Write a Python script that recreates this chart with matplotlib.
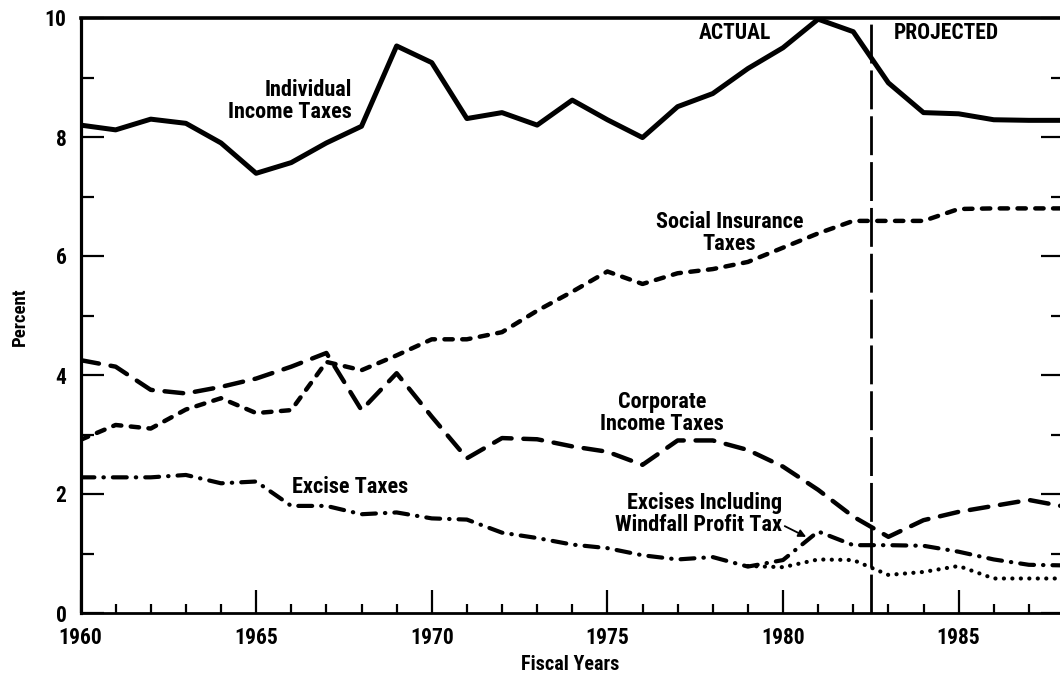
import matplotlib
matplotlib.use('Agg')
import matplotlib.pyplot as plt
from matplotlib import font_manager
from matplotlib.font_manager import FontProperties
from matplotlib.ticker import MultipleLocator

# ---------------- data ----------------
years = list(range(1960, 1989))
individual_income = [8.20, 8.12, 8.30, 8.23, 7.90, 7.39, 7.57, 7.90, 8.18, 9.53,
                     9.25, 8.31, 8.41, 8.20, 8.62, 8.29, 7.99, 8.51, 8.73, 9.15,
                     9.50, 9.98, 9.77, 8.91, 8.41, 8.39, 8.29, 8.28, 8.28]
social_insurance = [2.91, 3.16, 3.10, 3.42, 3.61, 3.36, 3.41, 4.22, 4.08, 4.33,
                    4.60, 4.60, 4.72, 5.08, 5.40, 5.74, 5.53, 5.71, 5.78, 5.90,
                    6.14, 6.38, 6.59, 6.59, 6.59, 6.79, 6.80, 6.80, 6.80]
corporate_income = [4.25, 4.14, 3.75, 3.69, 3.80, 3.94, 4.14, 4.37, 3.41, 4.03,
                    3.30, 2.60, 2.94, 2.92, 2.80, 2.71, 2.49, 2.90, 2.90, 2.74,
                    2.46, 2.07, 1.62, 1.28, 1.56, 1.70, 1.80, 1.90, 1.79]
excise_incl_windfall = [2.28, 2.28, 2.28, 2.32, 2.18, 2.21, 1.80, 1.80, 1.66, 1.69,
                        1.59, 1.57, 1.35, 1.26, 1.15, 1.09, 0.97, 0.90, 0.94, 0.78,
                        0.89, 1.37, 1.14, 1.14, 1.13, 1.03, 0.90, 0.81, 0.80]
excise_years = list(range(1979, 1989))
excise_excl_windfall = [0.79, 0.77, 0.90, 0.89, 0.64, 0.69, 0.79, 0.58, 0.58, 0.58]
projection_start = 1982.5
x_tick_labels = ['1960', '1965', '1970', '1975', '1980', '1985']
y_tick_labels = ['0', '2', '4', '6', '8', '10']

# ---------------- fonts: look for an installed bold condensed face ----------------
def find_condensed_bold():
    prefs = ['liberationsansnarrow', 'notosans', 'roboto', 'opensans', 'dejavusans']
    found = []
    for f in font_manager.fontManager.ttflist:
        fn = f.fname.lower().replace('-', '').replace('_', '').replace(' ', '')
        base = fn.rsplit('/', 1)[-1]
        if not any(k in base for k in ('condensed', 'narrow', 'cond')):
            continue
        if 'extracondensed' in base or 'semicondensed' in base or 'ultra' in base:
            continue
        if 'italic' in base or 'oblique' in base:
            continue
        if not base.rstrip('.ttfotc').endswith('bold') and 'condbold' not in base \
                and 'boldcondensed' not in base and 'narrowbold' not in base \
                and 'condensedbold' not in base:
            continue
        if 'semibold' in base or 'extrabold' in base:
            continue
        rank = len(prefs)
        for i, p in enumerate(prefs):
            if base.startswith(p):
                rank = i
                break
        found.append((rank, f.fname))
    found.sort()
    return found[0][1] if found else None

cond_path = find_condensed_bold()
plt.rcParams['lines.scale_dashes'] = False
if cond_path:
    def FP(size):
        return FontProperties(fname=cond_path, size=size)
    scale = 1.0
else:
    plt.rcParams['font.family'] = ['Liberation Sans', 'DejaVu Sans']
    def FP(size):
        return FontProperties(family=['Liberation Sans', 'DejaVu Sans'],
                              weight='bold', size=size)
    scale = 0.88

fig = plt.figure(figsize=(10.6, 6.74), dpi=100)
ax = fig.add_axes([80.5 / 1060, 61 / 674, (1064 - 80.5) / 1060, (613 - 18) / 674])

ax.plot(years, individual_income, color='k', lw=3.6, solid_joinstyle='round',
        solid_capstyle='round')
l, = ax.plot(years, social_insurance, color='k', lw=3.2, dash_capstyle='round',
             dash_joinstyle='round')
l.set_dashes((6.0, 6.8))
l, = ax.plot(years, corporate_income, color='k', lw=3.2, dash_capstyle='round',
             dash_joinstyle='round')
l.set_dashes((13.5, 8.5))
l, = ax.plot(years, excise_incl_windfall, color='k', lw=3.0, dash_capstyle='round',
             dash_joinstyle='round')
l.set_dashes((10, 6.5, 0.3, 6.5))
l, = ax.plot(excise_years, excise_excl_windfall, color='k', lw=3.0,
             dash_capstyle='round')
l.set_dashes((0.1, 6.0))

ax.axvline(projection_start, color='k', lw=2.0, dashes=(28, 5))

ax.set_xlim(1960, 1988)
ax.set_ylim(0, 10)
ax.set_xticks([int(t) for t in x_tick_labels])
ax.set_xticklabels(x_tick_labels, fontproperties=FP(15.5 * scale))
ax.set_yticks([int(t) for t in y_tick_labels])
ax.set_yticklabels(y_tick_labels, fontproperties=FP(15.5 * scale))
ax.xaxis.set_minor_locator(MultipleLocator(1))
ax.yaxis.set_minor_locator(MultipleLocator(1))
ax.tick_params(which='both', direction='in', top=False, right=True, width=1.6,
               color='k')
ax.tick_params(axis='x', which='major', length=16.5, pad=10)
ax.tick_params(axis='x', which='minor', length=6.5)
ax.tick_params(axis='y', which='major', length=16.5, pad=10)
ax.tick_params(axis='y', which='minor', length=9.4)

ax.spines['left'].set_linewidth(2.3)
ax.spines['bottom'].set_linewidth(2.0)
ax.spines['top'].set_linewidth(2.6)
ax.spines['right'].set_linewidth(2.3)

fig.text(19.5 / 1060, 1 - 317 / 674, 'Percent', rotation=90, ha='center',
         va='center', fontproperties=FP(13.5 * scale))
fig.text(570 / 1060, 1 - 665 / 674, 'Fiscal Years', ha='center', va='center',
         fontproperties=FP(14.5 * scale))

def lab(x, y, s, ha='center', size=16):
    ax.text(x, y, s, ha=ha, va='center', multialignment=ha, color='k',
            linespacing=1.0, fontproperties=FP(size * scale))

lab(1967.73, 8.61, 'Individual\nIncome Taxes', ha='right')
lab(1978.64, 9.75, 'ACTUAL', size=15.5)
lab(1984.65, 9.75, 'PROJECTED', size=15.5)
lab(1978.47, 6.38, 'Social Insurance\nTaxes')
lab(1976.56, 3.36, 'Corporate\nIncome Taxes')
lab(1967.67, 2.12, 'Excise Taxes')
lab(1979.98, 1.66, 'Excises Including\nWindfall Profit Tax', ha='right')
ax.annotate('', xy=(1980.66, 1.28), xytext=(1980.05, 1.46),
            arrowprops=dict(arrowstyle='-|>', lw=1.3, color='k',
                            mutation_scale=11, shrinkA=0, shrinkB=0))

fig.savefig('out.png', dpi=100)
